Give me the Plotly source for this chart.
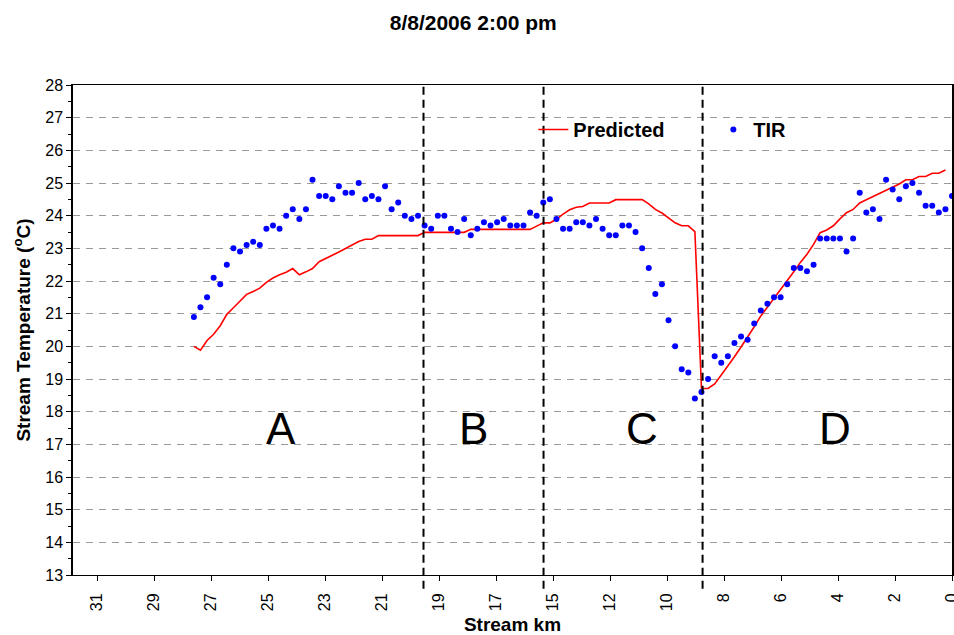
import plotly.graph_objects as go

# Longitudinal profile, km measured upstream from the mouth
STREAM_KM = [
    27.60, 27.36, 27.12, 26.88, 26.64, 26.40, 26.16, 25.92, 25.68, 25.44,
    25.20, 24.96, 24.72, 24.48, 24.24, 24.00, 23.76, 23.52, 23.28, 23.04,
    22.80, 22.56, 22.32, 22.08, 21.84, 21.60, 21.36, 21.12, 20.88, 20.64,
    20.40, 20.16, 19.92, 19.68, 19.44, 19.20, 18.96, 18.72, 18.48, 18.24,
    18.00, 17.76, 17.52, 17.28, 17.04, 16.80, 16.56, 16.32, 16.08, 15.84,
    15.60, 15.36, 15.12, 14.88, 14.64, 14.40, 14.16, 13.92, 13.68, 13.44,
    13.20, 12.96, 12.72, 12.48, 12.24, 12.00, 11.76, 11.52, 11.28, 11.04,
    10.80, 10.56, 10.32, 10.08, 9.84, 9.60, 9.36, 9.12, 8.88, 8.64,
    8.40, 8.16, 7.92, 7.68, 7.44, 7.20, 6.96, 6.72, 6.48, 6.24,
    6.00, 5.76, 5.52, 5.28, 5.04, 4.80, 4.56, 4.32, 4.08, 3.84,
    3.60, 3.36, 3.12, 2.88, 2.64, 2.40, 2.16, 1.92, 1.68, 1.44,
    1.20, 0.96, 0.72, 0.48, 0.24, 0.00,
]

# Thermal infrared (TIR) stream temperatures, deg C
TIR_TEMP = [
    20.9, 21.2, 21.5, 22.1, 21.9, 22.5, 23.0, 22.9, 23.1, 23.2,
    23.1, 23.6, 23.7, 23.6, 24.0, 24.2, 23.9, 24.2, 25.1, 24.6,
    24.6, 24.5, 24.9, 24.7, 24.7, 25.0, 24.5, 24.6, 24.5, 24.9,
    24.2, 24.4, 24.0, 23.9, 24.0, 23.7, 23.6, 24.0, 24.0, 23.6,
    23.5, 23.9, 23.4, 23.6, 23.8, 23.7, 23.8, 23.9, 23.7, 23.7,
    23.7, 24.1, 24.0, 24.4, 24.5, 23.9, 23.6, 23.6, 23.8, 23.8,
    23.7, 23.9, 23.6, 23.4, 23.4, 23.7, 23.7, 23.5, 23.0, 22.4,
    21.6, 21.9, 20.8, 20.0, 19.3, 19.2, 18.4, 18.6, 19.0, 19.7,
    19.5, 19.7, 20.1, 20.3, 20.2, 20.7, 21.1, 21.3, 21.5, 21.5,
    21.9, 22.4, 22.4, 22.3, 22.5, 23.3, 23.3, 23.3, 23.3, 22.9,
    23.3, 24.7, 24.1, 24.2, 23.9, 25.1, 24.8, 24.5, 24.9, 25.0,
    24.7, 24.3, 24.3, 24.1, 24.2, 24.6,
]

# Model-predicted stream temperatures, deg C
PRED_TEMP = [
    20.00, 19.88, 20.18, 20.37, 20.63, 20.98, 21.18, 21.39, 21.59, 21.68,
    21.78, 21.96, 22.09, 22.19, 22.27, 22.38, 22.19, 22.28, 22.38, 22.59,
    22.68, 22.79, 22.89, 23.00, 23.10, 23.21, 23.28, 23.28, 23.39, 23.39,
    23.39, 23.39, 23.39, 23.39, 23.39, 23.49, 23.49, 23.49, 23.49, 23.49,
    23.49, 23.49, 23.58, 23.58, 23.58, 23.58, 23.58, 23.58, 23.58, 23.58,
    23.58, 23.58, 23.68, 23.78, 23.78, 23.89, 24.05, 24.18, 24.26, 24.28,
    24.39, 24.39, 24.39, 24.39, 24.49, 24.49, 24.49, 24.49, 24.49, 24.36,
    24.19, 24.08, 23.93, 23.78, 23.69, 23.69, 23.51, 18.71, 18.71, 18.85,
    19.12, 19.39, 19.68, 19.98, 20.28, 20.60, 20.93, 21.20, 21.47, 21.72,
    22.00, 22.28, 22.57, 22.82, 23.12, 23.48, 23.56, 23.69, 23.90, 24.09,
    24.19, 24.39, 24.49, 24.59, 24.69, 24.79, 24.89, 24.97, 25.10, 25.10,
    25.20, 25.20, 25.30, 25.30, 25.40,
]

# Axis labelling (ticks fall every 2.075 km and are shown rounded)
X_TICK_LABELS = ["0", "2", "4", "6", "8", "10", "12", "15",
                 "17", "19", "21", "23", "25", "27", "29", "31"]
X_TICK_STEP_KM = 2.075
X_RANGE_KM = [32, 0]
Y_RANGE = [13, 28]

# Reach boundaries and reach names
REACH_BOUNDS_KM = [19.24, 14.87, 9.08]
REACH_NAMES = ["A", "B", "C", "D"]
REACH_LABEL_KM = [24.42, 17.43, 11.28, 4.25]
REACH_LABEL_TEMP = 17.5

FONT = "Arial, Liberation Sans, sans-serif"

fig = go.Figure()

fig.add_trace(go.Scatter(
    x=STREAM_KM[:len(PRED_TEMP)], y=PRED_TEMP, mode="lines", name="Predicted",
    line=dict(color="#FF0000", width=1.6),
))
fig.add_trace(go.Scatter(
    x=STREAM_KM, y=TIR_TEMP, mode="markers", name="TIR",
    marker=dict(color="#0000FF", size=6, line=dict(width=0)),
))

shapes = []
# white panel behind the legend hides the gridline there
shapes.append(dict(
    type="rect", xref="paper", yref="paper", layer="between",
    x0=0.4998, x1=0.8456, y0=0.878, y1=0.955,
    fillcolor="white", line=dict(width=0),
))
for km in REACH_BOUNDS_KM:
    shapes.append(dict(
        type="line", xref="x", yref="paper", layer="above",
        x0=km, x1=km, y0=-0.028, y1=1,
        line=dict(color="black", width=2, dash="8px,5px"),
    ))

annotations = []
for name, km in zip(REACH_NAMES, REACH_LABEL_KM):
    annotations.append(dict(
        x=km, y=REACH_LABEL_TEMP, xref="x", yref="y", text=name,
        showarrow=False, font=dict(family=FONT, size=44, color="black"),
        xanchor="center", yanchor="middle",
    ))

fig.update_layout(
    width=954, height=635,
    margin=dict(l=73, r=2, t=85, b=60, autoexpand=False),
    paper_bgcolor="white", plot_bgcolor="white",
    font=dict(family=FONT, color="black"),
    title=dict(
        text="<b>8/8/2006 2:00 pm</b>", x=0.496, xanchor="center",
        y=0.964, yanchor="middle", font=dict(family=FONT, size=21, color="black"),
    ),
    showlegend=True,
    legend=dict(
        orientation="h", x=0.5237, xanchor="left", y=0.949, yanchor="top",
        bgcolor="rgba(0,0,0,0)", borderwidth=0,
        font=dict(family=FONT, size=20, color="black", weight="bold"),
        entrywidth=135, entrywidthmode="pixels",
    ),
    shapes=shapes,
    annotations=annotations,
)

fig.update_xaxes(
    range=X_RANGE_KM,
    automargin=False,
    tickmode="array",
    tickvals=[i * X_TICK_STEP_KM for i in range(len(X_TICK_LABELS))],
    ticktext=X_TICK_LABELS,
    tickangle=-90,
    ticks="outside", ticklen=5, tickwidth=1, tickcolor="black",
    ticklabelstandoff=6,
    ticklabeloverflow="allow",
    tickfont=dict(family=FONT, size=16, color="black"),
    showgrid=False, zeroline=False,
    showline=True, linecolor="black", linewidth=1, mirror=True,
    title=dict(text="<b>Stream km</b>", font=dict(family=FONT, size=19, color="black"),
               standoff=9),
)
fig.update_yaxes(
    range=Y_RANGE, dtick=1, tick0=13,
    automargin=False,
    ticks="outside", ticklen=5, tickwidth=1, tickcolor="black",
    tickfont=dict(family=FONT, size=16, color="black"),
    minor=dict(dtick=0.5, ticks="outside", ticklen=3, tickcolor="black", showgrid=False),
    showgrid=True, gridcolor="#9a9a9a", gridwidth=1, griddash="7px,6px",
    zeroline=False,
    showline=True, linecolor="black", linewidth=1.5, mirror=True,
    title=dict(text="<b>Stream Temperature (<sup>o</sup>C)</b>",
               font=dict(family=FONT, size=19, color="black"), standoff=10),
)

fig.write_html("out.html")
